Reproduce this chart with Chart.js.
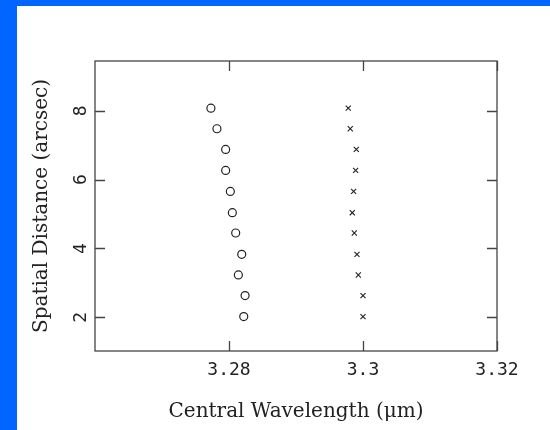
<!DOCTYPE html>
<html>
<head>
<meta charset="utf-8">
<script src="https://cdn.jsdelivr.net/npm/chart.js@4.4.1/dist/chart.umd.min.js"></script>
<style>
  html, body { margin: 0; padding: 0; background: #0066ff; }
  #wrap { position: absolute; left: 17px; top: 6px; width: 533px; height: 424px; background: #fff; }
</style>
</head>
<body>
<div id="wrap"><canvas id="plot" width="533" height="424"></canvas></div>
<script>
// distance along the slit (arcsec)
const distance = [8.08, 7.48, 6.88, 6.27, 5.66, 5.04, 4.45, 3.83, 3.23, 2.63, 2.02];
// central wavelengths (um), circles and crosses
const waveCircle = [3.2773, 3.2782, 3.2795, 3.2795, 3.2802, 3.2805, 3.2810, 3.2819, 3.2814, 3.2824, 3.2822];
const waveCross = [3.2978, 3.2981, 3.2990, 3.2989, 3.2986, 3.2984, 3.2987, 3.2991, 3.2993, 3.3000, 3.3000];
const xTicks = [3.28, 3.30, 3.32];
const yTicks = [2, 4, 6, 8];

const INK = '#222';
const FRAME = '#444';
const TITLE_FONT = { family: "'DejaVu Serif', serif", size: 20 };
const TICK_FONT = { family: "'DejaVu Sans Mono', monospace", size: 18 };

const toPoints = (xs, ys) => xs.map((x, i) => ({ x, y: ys[i] }));

// box round the plot and short ticks pointing inwards on all four sides
const framePlugin = {
  id: 'frame',
  afterDatasetsDraw(chart) {
    const { ctx, chartArea: a, scales } = chart;
    const len = 10;
    ctx.save();
    ctx.strokeStyle = FRAME;
    ctx.lineWidth = 1.3;
    ctx.strokeRect(a.left, a.top, a.right - a.left, a.bottom - a.top);
    ctx.beginPath();
    xTicks.forEach(v => {
      const px = Math.round(scales.x.getPixelForValue(v)) + 0.5;
      ctx.moveTo(px, a.bottom); ctx.lineTo(px, a.bottom - len);
      ctx.moveTo(px, a.top); ctx.lineTo(px, a.top + len);
    });
    yTicks.forEach(v => {
      const py = Math.round(scales.y.getPixelForValue(v)) + 0.5;
      ctx.moveTo(a.left, py); ctx.lineTo(a.left + len, py);
      ctx.moveTo(a.right, py); ctx.lineTo(a.right - len, py);
    });
    ctx.stroke();
    ctx.restore();
  },
};

new Chart(document.getElementById('plot'), {
  type: 'scatter',
  data: {
    datasets: [
      {
        data: toPoints(waveCircle, distance),
        pointStyle: 'circle',
        pointRadius: 4,
        borderWidth: 1.2,
        borderColor: INK,
        backgroundColor: '#fff',
      },
      {
        data: toPoints(waveCross, distance),
        pointStyle: 'crossRot',
        pointRadius: 3.6,
        borderWidth: 1.1,
        borderColor: INK,
      },
    ],
  },
  options: {
    responsive: false,
    animation: false,
    layout: { padding: { top: 55, right: 53, left: 0, bottom: 0 } },
    plugins: { legend: { display: false }, tooltip: { enabled: false } },
    scales: {
      x: {
        type: 'linear',
        min: 3.26, max: 3.32,
        afterFit: s => { s.height = 79; },
        afterBuildTicks: s => { s.ticks = xTicks.map(value => ({ value })); },
        grid: { display: false, drawTicks: false },
        border: { display: false },
        ticks: {
          color: INK,
          padding: 9,
          maxRotation: 0,
          font: TICK_FONT,
          callback: v => String(v),
        },
        title: {
          display: true,
          text: 'Central Wavelength (\u03bcm)',
          color: INK,
          padding: { top: 0, bottom: 6 },
          font: TITLE_FONT,
        },
      },
      y: {
        type: 'linear',
        min: 1.02, max: 9.45,
        afterFit: s => { s.width = 78; },
        afterBuildTicks: s => { s.ticks = yTicks.map(value => ({ value })); },
        grid: { display: false, drawTicks: false },
        border: { display: false },
        ticks: {
          color: INK,
          padding: 8,
          minRotation: 90,
          maxRotation: 90,
          crossAlign: 'center',
          font: TICK_FONT,
          callback: v => String(v),
        },
        title: {
          display: true,
          text: 'Spatial Distance (arcsec)',
          color: INK,
          padding: { top: 13, bottom: 0 },
          font: TITLE_FONT,
        },
      },
    },
  },
  plugins: [framePlugin],
});
</script>
</body>
</html>
